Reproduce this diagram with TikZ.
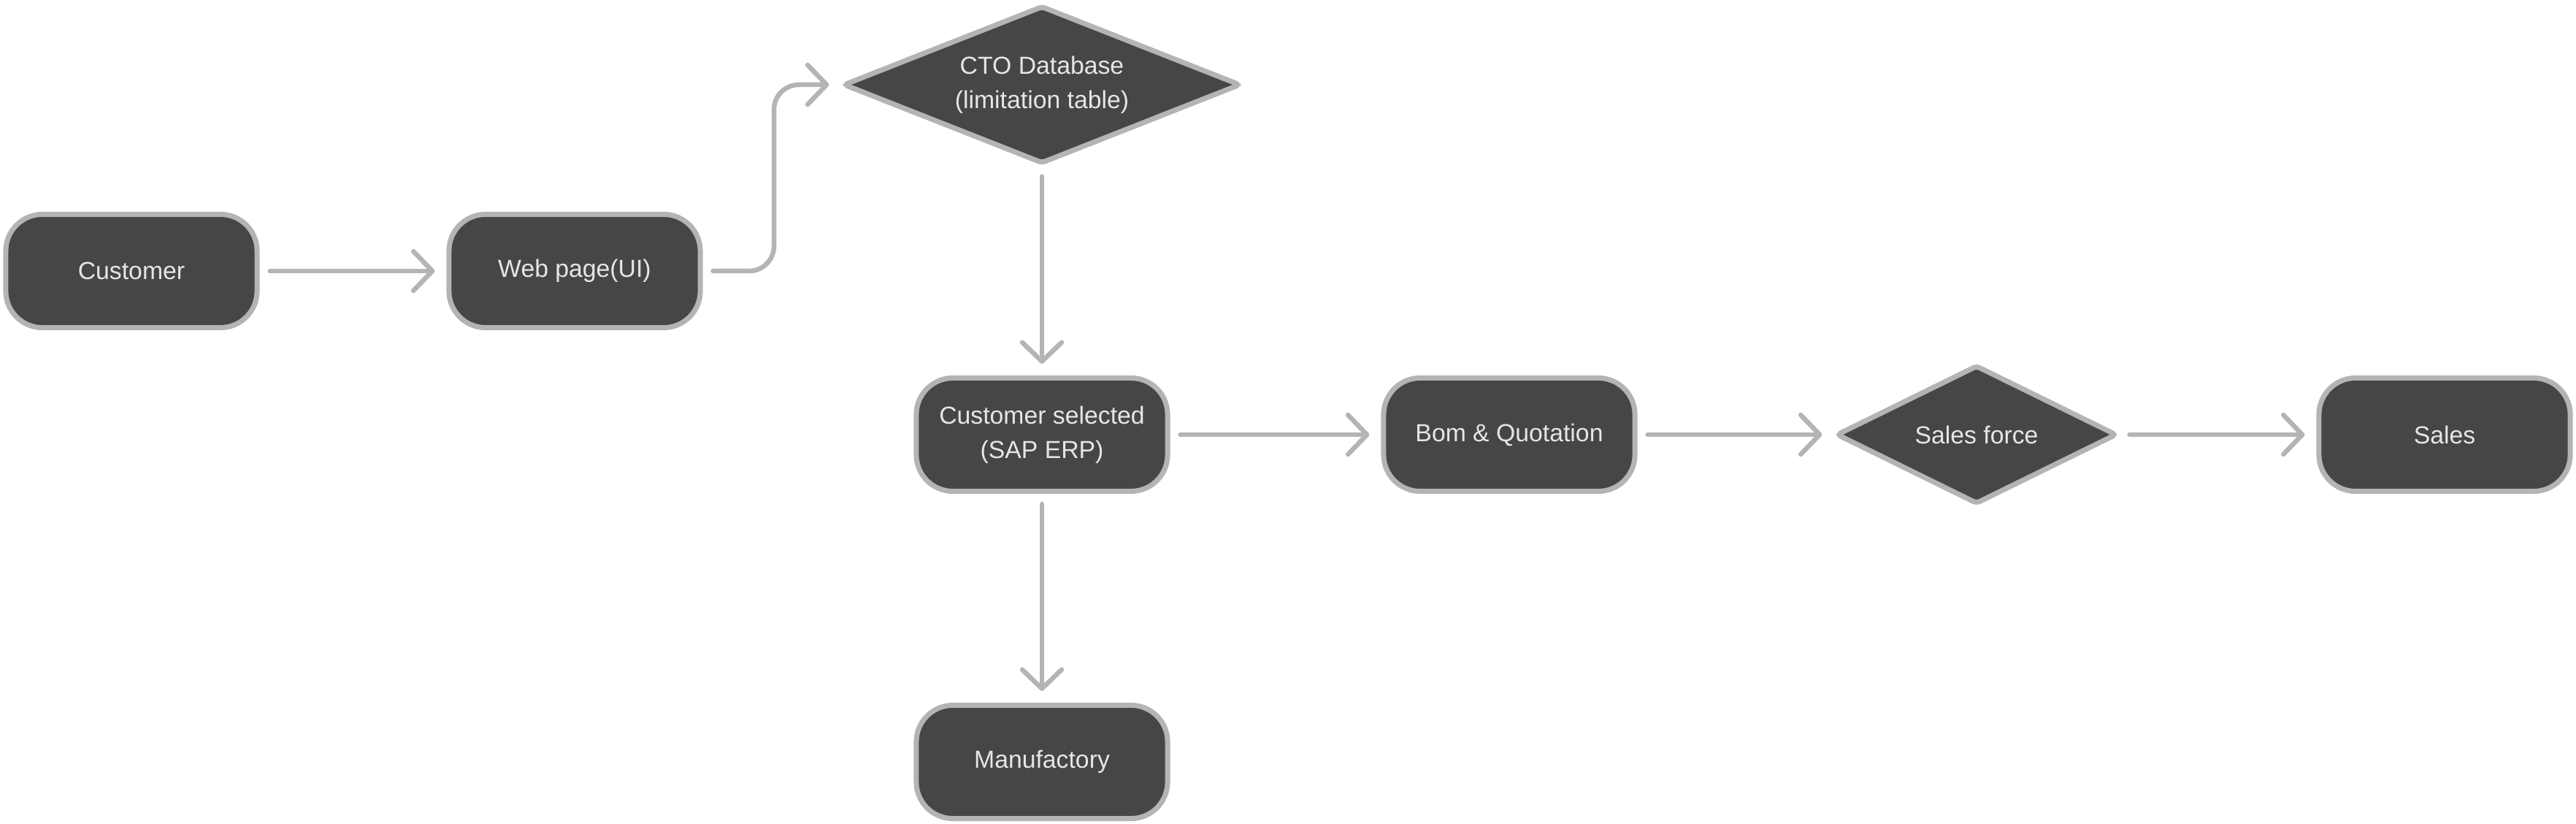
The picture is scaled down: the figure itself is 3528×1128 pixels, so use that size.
\documentclass[tikz,border=0pt]{standalone}
\usepackage{fontspec}
\setmainfont{Liberation Sans}
\usetikzlibrary{shapes.geometric,arrows.meta}
\definecolor{boxfill}{HTML}{464646}
\definecolor{boxline}{HTML}{B4B4B4}
\definecolor{boxtext}{HTML}{E6E6E6}
\tikzset{
  base/.style={draw=boxline, line width=0.07cm, fill=boxfill, text=boxtext,
    font=\fontsize{9.6}{13.4}\selectfont, align=center, inner sep=0pt},
  roundbox/.style={base, rectangle, rounded corners=0.5cm, minimum width=3.44cm, minimum height=1.55cm},
  decision/.style={base, diamond, rounded corners=0.05cm},
  flow/.style={draw=boxline, line width=0.065cm, line cap=round, line join=round,
    -{Straight Barb[length=0.26cm, width=0.54cm, line cap=round, line join=round]},
    shorten <=0.14cm, shorten >=0.16cm}
}
\begin{document}
\begin{tikzpicture}[x=0.01cm, y=-0.01cm]
\useasboundingbox (0,0) rectangle (3528,1128);
\node[roundbox] (cust) at (180,371) {Customer};
\node[roundbox] (web) at (787,371) {Web page(UI)};
\node[decision, shape aspect=2.5, minimum width=5.44cm, minimum height=2.16cm] (cto) at (1427,116) {CTO Database\\(limitation table)};
\node[roundbox] (sel) at (1427,595) {Customer selected\\(SAP ERP)};
\node[roundbox] (bom) at (2067,595) {Bom \& Quotation};
\node[decision, shape aspect=2, minimum width=3.84cm, minimum height=1.90cm] (sf) at (2707,595) {Sales force};
\node[roundbox] (sales) at (3348,595) {Sales};
\node[roundbox] (man) at (1427,1043) {Manufactory};
\coordinate (bend) at (1060,371);
\draw[flow] (cust.east) -- (web.west);
\draw[flow, rounded corners=0.34cm] (web.east) -- (bend) |- (cto.west);
\draw[flow] (cto.south) -- (sel.north);
\draw[flow] (sel.east) -- (bom.west);
\draw[flow] (bom.east) -- (sf.west);
\draw[flow] (sf.east) -- (sales.west);
\draw[flow] (sel.south) -- (man.north);
\end{tikzpicture}
\end{document}
